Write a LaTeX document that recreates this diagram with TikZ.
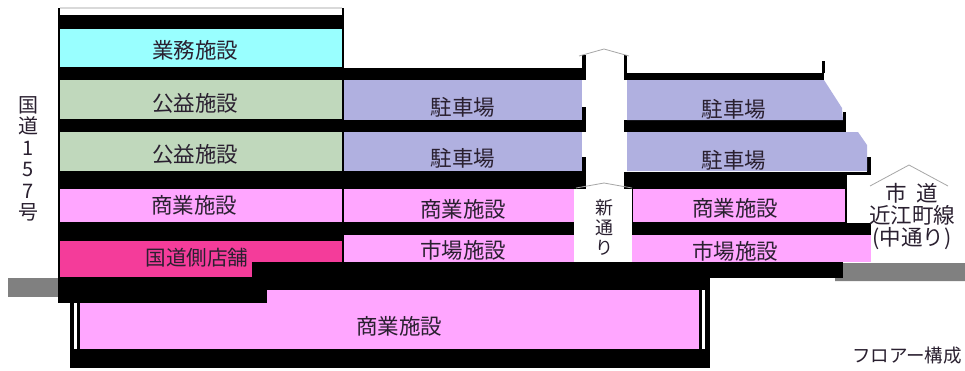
\documentclass[tikz,border=0pt]{standalone}
\usepackage{fontspec}
\usepackage{xcolor}
\setmainfont{Noto Sans CJK JP}
\definecolor{office}{HTML}{99FFFF}
\definecolor{public}{HTML}{C0D8BC}
\definecolor{parking}{HTML}{B0B0E0}
\definecolor{shops}{HTML}{FFA6FF}
\definecolor{roadshops}{HTML}{F43C9A}
\definecolor{ground}{HTML}{808080}
\definecolor{inktext}{HTML}{2A2030}
\tikzstyle{floor_label}=[inner sep=0pt, text=inktext, font=\fontsize{21.5}{24}\selectfont]
\tikzstyle{road_label}=[inner sep=0pt, text=inktext, font=\fontsize{19}{21}\selectfont, align=center]
\tikzstyle{gable}=[draw=black!35, line width=.8pt]
\begin{document}
\begin{tikzpicture}[x=1pt,y=-1pt]
\useasboundingbox (0,0) rectangle (965,370);
\fill[white] (0,0) rectangle (965,370);
% ground
\fill[ground] (8,278) rectangle (60,297);
\fill[ground] (843,263) -- (965,263) -- (965,281) -- (835,281) -- (835,277) -- (843,277) -- cycle;
% black structure
\fill[black] (70,290) rectangle (710,368);
\fill[black] (58,278) rectangle (267,303);
\fill[black] (252,262) rectangle (843,278);
\fill[black] (267,277) rectangle (710,290);
\fill[black] (58,8) rectangle (344,262);
\fill[black] (58,262) rectangle (252,278);
\fill[black] (344,68) rectangle (586,189);
\fill[black] (574,172) rectangle (586,189);
\fill[black] (344,189) rectangle (574,262);
\fill[black] (624,73) rectangle (824,80);
\fill[black] (624,55) rectangle (627,80);
\fill[black] (822,61) rectangle (825,73);
\fill[black] (624,120) rectangle (846,132);
\fill[black] (843,112) rectangle (846,120);
\fill[black] (624,172) rectangle (871,175);
\fill[black] (867,157) rectangle (871,175);
\fill[black] (624,175) rectangle (847,189);
\fill[black] (632,189) rectangle (847,262);
\fill[black] (632,223) rectangle (871,235);
\fill[black] (582,55) rectangle (586,172);
% street between the blocks
\fill[white] (60,9) rectangle (342,15);
\fill[black!15] (60,7) rectangle (342,9);
\fill[white] (74,303) rectangle (77,349);
\fill[white] (702,290) rectangle (705,349);
\fill[white] (586,68) rectangle (624,189);
\fill[white] (582,80) rectangle (586,107);
\fill[white] (582,132) rectangle (586,157);
\fill[white] (624,80) rectangle (627,107);
\fill[white] (624,132) rectangle (627,157);
\fill[white] (574,189) rectangle (632,262);
% floors
\fill[office] (60,29) rectangle (342,67);
\fill[public] (60,80) rectangle (342,119);
\fill[public] (60,132) rectangle (342,171);
\fill[shops] (60,189) rectangle (342,222);
\fill[roadshops] (60,241) rectangle (342,262);
\fill[roadshops] (60,262) rectangle (252,277);
\fill[parking] (344,80) rectangle (582,120);
\fill[parking] (344,132) rectangle (582,171);
\fill[shops] (344,189) rectangle (574,222);
\fill[shops] (344,235) rectangle (574,262);
\fill[parking] (627,80) -- (824,80) -- (842,108) -- (843,120) -- (627,120) -- cycle;
\fill[parking] (627,132) -- (858,132) -- (867,145) -- (867,171) -- (627,171) -- cycle;
\fill[shops] (633,189) rectangle (845,222);
\fill[shops] (632,235) rectangle (871,262);
\fill[shops] (80,303) rectangle (699,349);
\fill[shops] (267,290) rectangle (699,303);
% roof lines
\draw[gable] (579,56) -- (604,49) -- (629,56);
\draw[gable] (576,188) -- (604,183) -- (632,188);
\draw[gable] (870,186) -- (909,165) -- (948,186);
% labels
\node[floor_label] (office_top) at (195,50) {業務施設};
\node[floor_label] (public_upper) at (195,103) {公益施設};
\node[floor_label] (public_lower) at (195,154) {公益施設};
\node[floor_label] (shops_left) at (194,205) {商業施設};
\node[floor_label, font=\fontsize{20.6}{24}\selectfont] (shops_road) at (197,258) {国道側店舗};
\node[floor_label] (parking_a) at (463,107) {駐車場};
\node[floor_label] (parking_b) at (463,158) {駐車場};
\node[floor_label] (shops_mid) at (463,209) {商業施設};
\node[floor_label] (market_mid) at (463,250) {市場施設};
\node[floor_label] (parking_c) at (734,109) {駐車場};
\node[floor_label] (parking_d) at (734,160) {駐車場};
\node[floor_label] (shops_right) at (735,208) {商業施設};
\node[floor_label] (market_right) at (735,251) {市場施設};
\node[floor_label] (shops_under) at (399,326) {商業施設};
\node[road_label, font=\fontsize{18}{20}\selectfont] (new_street) at (604,227) {新\\通\\り};
\node[road_label, font=\fontsize{21.5}{22}\selectfont] (city_road) at (912,217) {市\ \ 道\\近江町線\\(中通り)};
\node[road_label, font=\fontsize{20}{21.5}\selectfont] (route_157) at (28,159) {国\\道\\1\\5\\7\\号};
\node[inner sep=0pt, text=inktext, font=\fontsize{18.5}{20}\selectfont] (caption) at (907,356) {フロアー構成};
\end{tikzpicture}
\end{document}
